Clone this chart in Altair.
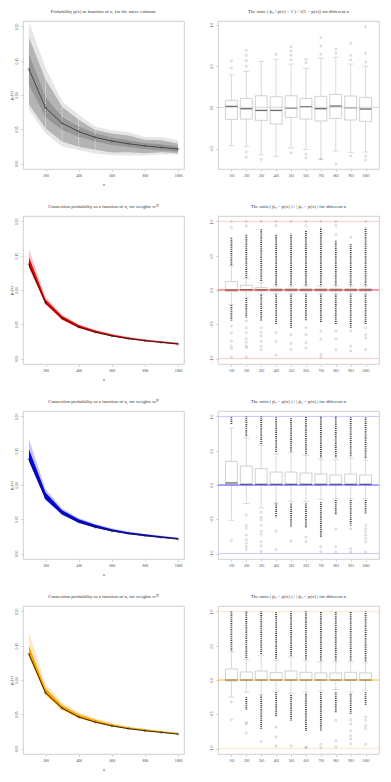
import json
import altair as alt
import pandas as pd

FONT = "Liberation Serif"
W, H = 161, 148

# ---------------- data: left panels (probability vs n) ----------------
N = [100, 200, 300, 400, 500, 600, 700, 800, 900, 1000]
N_TICKS = [200, 400, 600, 800, 1000]
P_TICKS = [0.0, 0.05, 0.10, 0.15, 0.20]

NAIVE_MEAN = [0.1377, 0.0814, 0.0588, 0.0466, 0.0382, 0.0328, 0.0289, 0.0258, 0.0235, 0.0211]
NAIVE_OUTER_LO = [0.078, 0.044, 0.025, 0.0196, 0.0147, 0.012, 0.0118, 0.0118, 0.013, 0.0132]
NAIVE_OUTER_HI = [0.206, 0.140, 0.091, 0.071, 0.054, 0.0485, 0.046, 0.0387, 0.0387, 0.034]
NAIVE_DENSE_LO = [0.086, 0.0515, 0.032, 0.0245, 0.020, 0.016, 0.0166, 0.0150, 0.0166, 0.015]
NAIVE_DENSE_HI = [0.184, 0.1225, 0.083, 0.064, 0.049, 0.0437, 0.041, 0.0348, 0.0338, 0.029]
NAIVE_CORE_LO = [0.115, 0.068, 0.049, 0.039, 0.032, 0.027, 0.024, 0.021, 0.019, 0.017]
NAIVE_CORE_HI = [0.160, 0.097, 0.068, 0.054, 0.044, 0.038, 0.034, 0.030, 0.028, 0.025]
NAIVE_GAP_N = [200, 300, 400, 500]

W_MEAN = [0.1377, 0.0814, 0.0590, 0.0460, 0.0385, 0.0330, 0.0290, 0.0260, 0.0235, 0.0210]

RED_OUTER_LO = [0.131, 0.078, 0.056, 0.044, 0.037, 0.032, 0.028, 0.025, 0.0228, 0.0205]
RED_OUTER_HI = [0.160, 0.090, 0.064, 0.050, 0.042, 0.036, 0.0315, 0.028, 0.0255, 0.023]
RED_DENSE_LO = [0.134, 0.080, 0.057, 0.045, 0.038, 0.0325, 0.0285, 0.0255, 0.023, 0.0207]
RED_DENSE_HI = [0.148, 0.086, 0.062, 0.049, 0.041, 0.035, 0.0305, 0.0275, 0.025, 0.0225]

BLUE_OUTER_LO = [0.134, 0.078, 0.056, 0.0445, 0.037, 0.032, 0.028, 0.025, 0.0228, 0.0205]
BLUE_OUTER_HI = [0.167, 0.094, 0.066, 0.052, 0.043, 0.037, 0.032, 0.0285, 0.026, 0.0232]
BLUE_DENSE_LO = [0.135, 0.079, 0.057, 0.045, 0.038, 0.0325, 0.0285, 0.0255, 0.023, 0.0207]
BLUE_DENSE_HI = [0.152, 0.089, 0.063, 0.050, 0.042, 0.0355, 0.031, 0.028, 0.0253, 0.0227]

ORANGE_OUTER_LO = [0.134, 0.078, 0.056, 0.0445, 0.037, 0.032, 0.028, 0.025, 0.0228, 0.0205]
ORANGE_OUTER_HI = [0.170, 0.094, 0.067, 0.053, 0.044, 0.0375, 0.0325, 0.029, 0.026, 0.0233]
ORANGE_DENSE_LO = [0.135, 0.079, 0.057, 0.045, 0.038, 0.0325, 0.0285, 0.0255, 0.023, 0.0207]
ORANGE_DENSE_HI = [0.150, 0.088, 0.063, 0.050, 0.042, 0.0355, 0.031, 0.028, 0.0253, 0.0227]

# ---------------- data: right panels (box plots) ----------------
BOX_IDX = [1, 2, 3, 4, 5, 6, 7, 8, 9, 10]
BOX_LABELS = ["101", "201", "301", "401", "501", "601", "701", "801", "901", "1001"]

R1_Q1 = [-0.145, -0.141, -0.157, -0.202, -0.121, -0.141, -0.165, -0.133, -0.153, -0.169]
R1_MED = [0.012, -0.017, -0.037, -0.037, -0.008, 0.008, -0.016, 0.016, -0.004, -0.020]
R1_Q3 = [0.085, 0.109, 0.140, 0.128, 0.140, 0.109, 0.133, 0.157, 0.137, 0.121]
R1_LO = [-0.46, -0.47, -0.573, -0.593, -0.492, -0.508, -0.625, -0.528, -0.544, -0.54]
R1_HI = [0.394, 0.435, 0.556, 0.58, 0.524, 0.472, 0.593, 0.605, 0.524, 0.496]
R1_OUT_BOX = [1, 1, 2, 2, 2, 2, 2, 2, 3, 4, 5, 5, 5, 5, 5, 6, 6, 6, 6, 7, 7, 7, 7,
              8, 8, 8, 9, 9, 9, 9, 10, 10, 10, 10, 10]
R1_OUT_VAL = [0.564, 0.479, 0.689, 0.629, 0.564, 0.496, -0.54, -0.60, -0.629, 0.641,
              0.733, 0.681, 0.629, 0.572, -0.549, 0.58, 0.54, -0.565, -0.609,
              0.843, 0.742, 0.641, -0.625, 0.706, 0.653, -0.681,
              0.774, 0.629, 0.573, -0.585, 0.976, 0.653, 0.548, -0.585, -0.637]

R2_Q1 = [-0.024, -0.015, -0.015, -0.015, -0.015, -0.015, -0.015, -0.015, -0.015, -0.015]
R2_MED = [0.0, 0.005, 0.003, 0.0, 0.0, 0.0, 0.0, 0.0, 0.0, 0.0]
R2_Q3 = [0.122, 0.068, 0.034, 0.020, 0.020, 0.020, 0.020, 0.020, 0.020, 0.020]
R2_LO = [-0.21, -0.112, -0.063, -0.054, -0.054, -0.054, -0.054, -0.054, -0.054, -0.054]
R2_HI = [0.351, 0.17, 0.107, 0.059, 0.059, 0.059, 0.059, 0.059, 0.059, 0.059]
R2_DENSE_HI_A = [0.36, 0.18, 0.13, 0.07, 0.07, 0.07, 0.07, 0.07, 0.07, 0.07]
R2_DENSE_HI_B = [0.766, 0.815, 0.89, 0.81, 0.82, 0.86, 0.91, 0.72, 0.68, 0.91]
R2_DENSE_LO_A = [-0.22, -0.12, -0.07, -0.065, -0.065, -0.065, -0.065, -0.065, -0.065, -0.065]
R2_DENSE_LO_B = [-0.45, -0.405, -0.45, -0.50, -0.55, -0.45, -0.48, -0.50, -0.55, -0.50]
R2_OUT_BOX = [1, 1, 1, 1, 1, 1, 1, 1,
              2, 2, 2, 2, 2, 2, 2, 2, 2, 2,
              3, 3, 3, 3, 3, 3, 3,
              4, 4, 4, 4, 4,
              5, 5, 5, 5,
              6, 6, 6, 6, 6, 6,
              7, 7, 7, 7, 7,
              8, 8, 8, 8, 8, 8,
              9, 9, 9, 9,
              10, 10, 10, 10, 10]
R2_OUT_VAL = [0.912, 1.0, -0.527, -0.624, -0.746, -0.82, -0.854, -0.98,
              1.0, 0.937, -0.45, -0.55, -0.62, -0.71, -0.76, -0.82, -0.84, -0.98,
              1.0, -0.55, -0.62, -0.67, -0.75, -0.82, -0.87,
              0.94, 1.0, -0.62, -0.75, -0.95,
              1.0, -0.65, -0.78, -0.87,
              1.0, 0.94, -0.55, -0.65, -0.77, -0.85,
              1.0, -0.6, -0.72, -0.94, -0.98,
              0.81, 0.94, 1.0, -0.6, -0.71, -0.87,
              0.77, -0.6, -0.82, -0.89,
              1.0, -0.55, -0.65, -0.7, -0.87]

R3_Q1 = [0.0, 0.0, 0.0, 0.0, 0.0, 0.0, 0.0, 0.0, 0.0, 0.0]
R3_MED = [0.03, 0.01, 0.01, 0.01, 0.01, 0.01, 0.01, 0.01, 0.01, 0.01]
R3_Q3 = [0.345, 0.277, 0.238, 0.189, 0.189, 0.175, 0.16, 0.146, 0.16, 0.146]
R3_LO = [-0.515, -0.27, -0.335, -0.26, -0.24, -0.245, -0.21, -0.2, -0.2, -0.2]
R3_HI = [0.83, 0.685, 0.578, 0.456, 0.47, 0.43, 0.374, 0.37, 0.393, 0.36]
R3_DENSE_HI_A = [0.89, 0.71, 0.60, 0.48, 0.49, 0.45, 0.40, 0.40, 0.42, 0.39]
R3_DENSE_HI_B = [1.0, 1.0, 1.0, 0.99, 0.99, 1.0, 1.0, 1.0, 1.0, 1.0]
R3_DENSE_LO_BOX = [4, 5, 6, 7, 8, 9, 10]
R3_DENSE_LO_A = [-0.27, -0.27, -0.27, -0.25, -0.22, -0.22, -0.22]
R3_DENSE_LO_B = [-0.47, -0.61, -0.63, -0.76, -0.44, -0.59, -0.42]
R3_OUT_BOX = [1,
              2, 2, 2, 2, 2, 2, 2, 2,
              3, 3, 3, 3, 3, 3, 3, 3, 3,
              4, 4, 5, 6, 6, 7, 7, 8, 8, 8, 9, 9, 9,
              10, 10, 10, 10, 10, 10, 10]
R3_OUT_VAL = [-0.81,
              -0.44, -0.59, -0.63, -0.73, -0.80, -0.85, -0.90, -0.94,
              -0.40, -0.47, -0.51, -0.59, -0.67, -0.72, -0.83, -0.89, -0.97,
              -0.67, -0.94, -0.82, -0.76, -0.83, -0.90, -0.97, -0.64, -0.90, -0.98,
              -0.64, -0.93, -0.98,
              -0.59, -0.64, -0.68, -0.73, -0.78, -0.83, -0.98]

R4_Q1 = [-0.015, -0.005, -0.005, -0.005, -0.005, -0.005, -0.005, -0.005, -0.005, -0.005]
R4_MED = [0.0, 0.0, 0.0, 0.0, 0.0, 0.0, 0.0, 0.0, 0.0, 0.0]
R4_Q3 = [0.161, 0.117, 0.132, 0.108, 0.132, 0.112, 0.103, 0.103, 0.112, 0.103]
R4_LO = [-0.25, -0.176, -0.21, -0.16, -0.2, -0.176, -0.16, -0.14, -0.176, -0.15]
R4_HI = [0.41, 0.303, 0.36, 0.29, 0.337, 0.279, 0.264, 0.264, 0.264, 0.25]
R4_DENSE_HI_A = [0.43, 0.32, 0.38, 0.31, 0.355, 0.30, 0.285, 0.285, 0.285, 0.27]
R4_DENSE_HI_B = [1.0, 1.0, 1.0, 1.0, 1.0, 1.0, 1.0, 1.0, 1.0, 1.0]
R4_DENSE_LO_BOX = [2, 3, 4, 5, 6, 7, 8, 9, 10]
R4_DENSE_LO_A = [-0.25, -0.225, -0.18, -0.22, -0.20, -0.18, -0.18, -0.20, -0.18]
R4_DENSE_LO_B = [-0.445, -0.71, -0.54, -0.59, -0.74, -0.74, -0.47, -0.50, -0.37]
R4_OUT_BOX = [1, 1, 2, 2, 2, 3, 4, 4, 4, 5, 6, 6, 7, 7, 8, 8, 8,
              9, 9, 9, 9, 9, 9, 10, 10, 10, 10, 10]
R4_OUT_VAL = [-0.32, -0.58, -0.62, -0.64, -0.77, -0.90, -0.69, -0.83, -0.96, -0.96,
              -0.98, -0.99, -0.94, -0.99, -0.59, -0.885, -0.98,
              -0.58, -0.64, -0.74, -0.81, -0.86, -0.93,
              -0.54, -0.59, -0.665, -0.71, -0.94]

TITLE_NAIVE = "Probability p(x) as function of n, for the naive estimate"
TITLE_RATIO1 = "The ratio ( p\u0302\u2099 / p(x) \u2212 1 ) / \u221a(1 \u2212 p(x)) for different n"
TITLE_W = ["Connection probability as a function of n, for weights  w\u207d\u00b9\u207e",
           "Connection probability as a function of n, for weights  w\u207d\u00b2\u207e",
           "Connection probability as a function of n, for weights  w\u207d\u00b3\u207e"]
TITLE_RATIO2 = "The ratio ( p\u0302\u2099 \u2212 p(x) ) / | p\u0302\u2099 \u2212 p(x) | for different n"


def ptitle(text):
    return alt.TitleParams(text=text, font=FONT, fontSize=4.8, fontWeight="normal",
                           color="#333333", offset=7, anchor="middle")


def x_left():
    return alt.X("n:Q", scale=alt.Scale(domain=[64, 1036], nice=False, zero=False),
                 axis=alt.Axis(values=N_TICKS, format="d", title="n", titlePadding=5))


def y_left(field):
    return alt.Y(field, type="quantitative",
                 scale=alt.Scale(domain=[-0.008, 0.208], nice=False, zero=False),
                 axis=alt.Axis(values=P_TICKS, format=".2f", title="p\u2099(x)",
                               labelAngle=270, labelAlign="center", labelBaseline="bottom",
                               titlePadding=1.5))


def left_panel(title, bands, mean, dark, gaps=False):
    layers = []
    for lo, hi, color, op in bands:
        df = pd.DataFrame({"n": N, "lo": lo, "hi": hi})
        layers.append(alt.Chart(df).mark_area(color=color, opacity=op)
                      .encode(x=x_left(), y=y_left("lo"), y2=alt.Y2("hi")))
    if gaps:
        gdf = pd.DataFrame({"n": N, "lo": NAIVE_DENSE_LO, "hi": NAIVE_DENSE_HI})
        gdf = gdf[gdf["n"].isin(NAIVE_GAP_N)]
        layers.append(alt.Chart(gdf).mark_rule(color="white", strokeDash=[1, 1.2], strokeWidth=0.7)
                      .encode(x=x_left(), y=y_left("lo"), y2=alt.Y2("hi")))
    mdf = pd.DataFrame({"n": N, "m": mean})
    layers.append(alt.Chart(mdf).mark_line(color=dark, strokeWidth=0.9)
                  .encode(x=x_left(), y=y_left("m")))
    layers.append(alt.Chart(mdf).mark_point(shape="circle", filled=False, size=4,
                                            color=dark, strokeWidth=0.5)
                  .encode(x=x_left(), y=y_left("m")))
    return alt.layer(*layers).properties(width=W, height=H, title=ptitle(title))


LABEL_EXPR = json.dumps(BOX_LABELS) + "[datum.value - 1]"


def right_panel(title, q1, med, q3, lo, hi, dense, out_box, out_val, ydom, yvals,
                zero_color, edge_color=None):
    xsc = alt.Scale(domain=[0.1, 10.9], nice=False, zero=False)
    ysc = alt.Scale(domain=ydom, nice=False, zero=False)

    def X(f):
        return alt.X(f, type="quantitative", scale=xsc,
                     axis=alt.Axis(values=BOX_IDX, labelExpr=LABEL_EXPR, title=None))

    def Y(f):
        return alt.Y(f, type="quantitative", scale=ysc,
                     axis=alt.Axis(values=yvals, format=".1f", title=None, labelAngle=270,
                                   labelAlign="center", labelBaseline="bottom"))

    bdf = pd.DataFrame({"i": BOX_IDX, "q1": q1, "med": med, "q3": q3, "lo": lo, "hi": hi})
    bdf["xl"] = bdf["i"] - 0.4
    bdf["xr"] = bdf["i"] + 0.4
    bdf["sl"] = bdf["i"] - 0.2
    bdf["sr"] = bdf["i"] + 0.2
    layers = []
    if edge_color:
        edf = pd.DataFrame({"v": [-1.0, 1.0]})
        layers.append(alt.Chart(edf).mark_rule(color=edge_color, strokeWidth=0.9).encode(y=Y("v")))
    wc = "#c2c2c2"
    b = alt.Chart(bdf)
    layers += [
        b.mark_rule(color=wc, strokeWidth=0.6).encode(x=X("i"), y=Y("q3"), y2=alt.Y2("hi")),
        b.mark_rule(color=wc, strokeWidth=0.6).encode(x=X("i"), y=Y("lo"), y2=alt.Y2("q1")),
        b.mark_rule(color=wc, strokeWidth=0.6).encode(x=X("sl"), x2=alt.X2("sr"), y=Y("hi")),
        b.mark_rule(color=wc, strokeWidth=0.6).encode(x=X("sl"), x2=alt.X2("sr"), y=Y("lo")),
        b.mark_rect(fill="white", stroke="#bdbdbd", strokeWidth=0.7)
         .encode(x=X("xl"), x2=alt.X2("xr"), y=Y("q1"), y2=alt.Y2("q3")),
        b.mark_rule(color="#6a6a6a", strokeWidth=1.3).encode(x=X("xl"), x2=alt.X2("xr"), y=Y("med")),
    ]
    if dense is not None:
        ddf = pd.DataFrame(dense)
        layers.append(alt.Chart(ddf).mark_rule(color="#404040", strokeWidth=1.8, strokeDash=[1, 0.9])
                      .encode(x=X("i"), y=Y("a"), y2=alt.Y2("b")))
    odf = pd.DataFrame({"i": out_box, "v": out_val})
    layers.append(alt.Chart(odf).mark_point(shape="circle", filled=False, size=4,
                                            color="#8a8a8a", strokeWidth=0.5)
                  .encode(x=X("i"), y=Y("v")))
    zdf = pd.DataFrame({"v": [0.0]})
    layers.append(alt.Chart(zdf).mark_rule(color=zero_color, strokeWidth=0.9).encode(y=Y("v")))
    return alt.layer(*layers).properties(width=W, height=H, title=ptitle(title))


def dense_table(hi_a, hi_b, lo_box, lo_a, lo_b):
    return {"i": BOX_IDX + lo_box, "a": hi_a + lo_a, "b": hi_b + lo_b}


YV1 = [-0.5, 0.0, 0.5, 1.0]
YV2 = [-1.0, -0.5, 0.0, 0.5, 1.0]

left1 = left_panel(TITLE_NAIVE,
                   [(NAIVE_OUTER_LO, NAIVE_OUTER_HI, "#e6e6e6", 1.0),
                    (NAIVE_DENSE_LO, NAIVE_DENSE_HI, "#b4b4b4", 1.0),
                    (NAIVE_CORE_LO, NAIVE_CORE_HI, "#979797", 1.0)],
                   NAIVE_MEAN, "#3c3c3c", gaps=True)
right1 = right_panel(TITLE_RATIO1, R1_Q1, R1_MED, R1_Q3, R1_LO, R1_HI, None,
                     R1_OUT_BOX, R1_OUT_VAL, [-0.745, 1.044], YV1, "#d4d4d4")

left2 = left_panel(TITLE_W[0],
                   [(RED_OUTER_LO, RED_OUTER_HI, "#ff0000", 0.22),
                    (RED_DENSE_LO, RED_DENSE_HI, "#ff0000", 1.0)],
                   W_MEAN, "#1a1a1a")
right2 = right_panel(TITLE_RATIO2, R2_Q1, R2_MED, R2_Q3, R2_LO, R2_HI,
                     dense_table(R2_DENSE_HI_A, R2_DENSE_HI_B, BOX_IDX, R2_DENSE_LO_A, R2_DENSE_LO_B),
                     R2_OUT_BOX, R2_OUT_VAL, [-1.08, 1.08], YV2, "#e03030", "#ffc4c4")

left3 = left_panel(TITLE_W[1],
                   [(BLUE_OUTER_LO, BLUE_OUTER_HI, "#0000ff", 0.22),
                    (BLUE_DENSE_LO, BLUE_DENSE_HI, "#0000ff", 1.0)],
                   W_MEAN, "#1a1a1a")
right3 = right_panel(TITLE_RATIO2, R3_Q1, R3_MED, R3_Q3, R3_LO, R3_HI,
                     dense_table(R3_DENSE_HI_A, R3_DENSE_HI_B, R3_DENSE_LO_BOX, R3_DENSE_LO_A, R3_DENSE_LO_B),
                     R3_OUT_BOX, R3_OUT_VAL, [-1.08, 1.08], YV2, "#3a3aff", "#c4c4ff")

left4 = left_panel(TITLE_W[2],
                   [(ORANGE_OUTER_LO, ORANGE_OUTER_HI, "#ffa500", 0.25),
                    (ORANGE_DENSE_LO, ORANGE_DENSE_HI, "#ffa500", 1.0)],
                   W_MEAN, "#1a1a1a")
right4 = right_panel(TITLE_RATIO2, R4_Q1, R4_MED, R4_Q3, R4_LO, R4_HI,
                     dense_table(R4_DENSE_HI_A, R4_DENSE_HI_B, R4_DENSE_LO_BOX, R4_DENSE_LO_A, R4_DENSE_LO_B),
                     R4_OUT_BOX, R4_OUT_VAL, [-1.08, 1.08], YV2, "#ffb020", "#ffe6b8")

chart = (alt.concat(left1, right1, left2, right2, left3, right3, left4, right4,
                    columns=2, spacing={"row": 47, "column": 34}, bounds="flush")
         .properties(padding=0)
         .configure_view(stroke="#c4c4c4", strokeWidth=0.8)
         .configure_axis(grid=False, domain=False, tickColor="#bdbdbd", tickSize=2.5,
                         tickWidth=0.6, labelFont=FONT, labelFontSize=3.8, labelColor="#444444",
                         labelPadding=2, titleFont=FONT, titleFontSize=4.2,
                         titleFontWeight="normal", titleColor="#444444"))

chart.save("out.html", embed_options={"renderer": "svg", "actions": False})
